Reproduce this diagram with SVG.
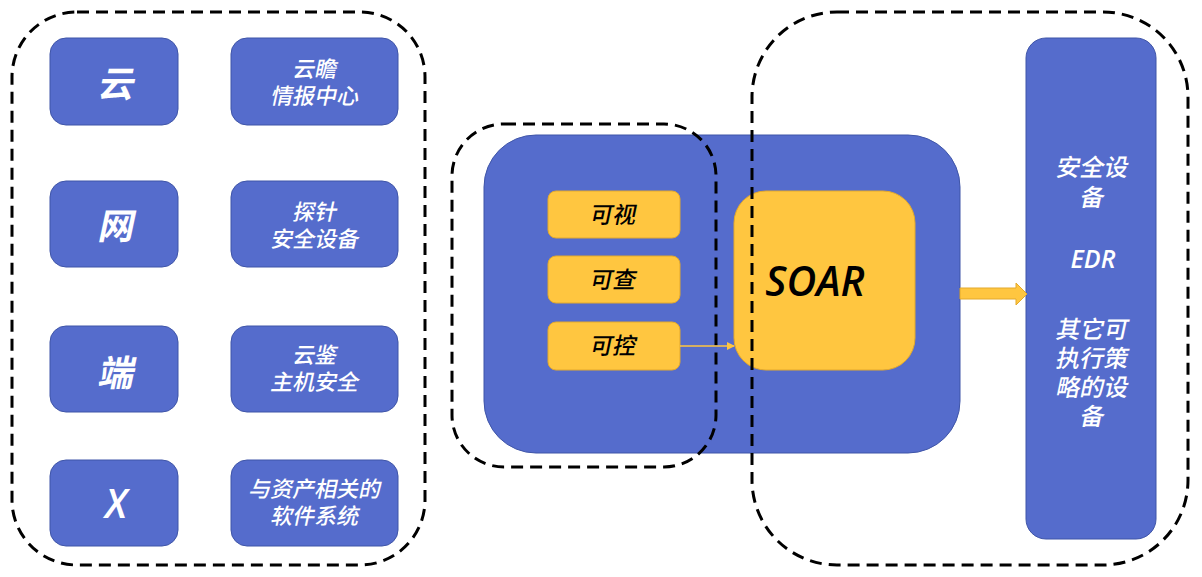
<svg xmlns="http://www.w3.org/2000/svg" width="1202" height="577" viewBox="0 0 1202 577">
<style>
.blue{fill:#556CCC;stroke:#3F55A8;stroke-width:1}
.yel{fill:#FFC640;stroke:#E3A92C;stroke-width:1}
.dash{fill:none;stroke:#000;stroke-width:3;stroke-dasharray:12 7}
text{font-family:"Noto Sans CJK SC","Noto Sans",sans-serif;text-anchor:middle;font-weight:500}
.lat{font-family:"Open Sans","Noto Sans",sans-serif;font-weight:600}
.w{fill:#fff}
.k{fill:#000}
.big{font-size:36px;font-weight:bold}
.mid{font-size:22px}
.r{font-size:24px}
.y{font-size:23px}
</style>
<defs>
<marker id="ah" markerWidth="8" markerHeight="8" refX="7" refY="4" orient="auto" markerUnits="userSpaceOnUse">
<path d="M0,0 L8,4 L0,8 Z" fill="#FFC640"/>
</marker>
</defs>
<rect width="1202" height="577" fill="#fff"/>
<g id="group-left"><rect class="dash" x="12" y="12" width="413" height="553" rx="65"/></g>
<g id="n-yun"><rect class="blue" x="50" y="38" width="128" height="87" rx="16"/><text class="w big" transform="translate(115,97) skewX(-12)">云</text></g>
<g id="n-yunzhan"><rect class="blue" x="231" y="38" width="167" height="87" rx="16"/><text class="w mid" transform="translate(314,77) skewX(-12)">云瞻</text><text class="w mid" transform="translate(314,104) skewX(-12)">情报中心</text></g>
<g id="n-wang"><rect class="blue" x="50" y="181" width="128" height="86" rx="16"/><text class="w big" transform="translate(115,239) skewX(-12)">网</text></g>
<g id="n-tanzhen"><rect class="blue" x="231" y="181" width="167" height="86" rx="16"/><text class="w mid" transform="translate(314,220) skewX(-12)">探针</text><text class="w mid" transform="translate(314,247) skewX(-12)">安全设备</text></g>
<g id="n-duan"><rect class="blue" x="50" y="326" width="128" height="86" rx="16"/><text class="w big" transform="translate(115,386) skewX(-12)">端</text></g>
<g id="n-yunjian"><rect class="blue" x="231" y="326" width="167" height="86" rx="16"/><text class="w mid" transform="translate(314,363) skewX(-12)">云鉴</text><text class="w mid" transform="translate(314,390) skewX(-12)">主机安全</text></g>
<g id="n-x"><rect class="blue" x="50" y="460" width="128" height="86" rx="16"/><text class="w lat" x="116" y="518" style="font-size:39px;font-style:italic">X</text></g>
<g id="n-software"><rect class="blue" x="231" y="460" width="167" height="86" rx="16"/><text class="w mid" transform="translate(314,497) skewX(-12)">与资产相关的</text><text class="w mid" transform="translate(314,524) skewX(-12)">软件系统</text></g>
<g id="n-platform"><rect class="blue" x="484" y="135" width="476" height="318" rx="52"/></g>
<g id="n-keshi"><rect class="yel" x="548" y="191" width="132" height="47" rx="8"/><text class="k y" transform="translate(612,223) skewX(-12)">可视</text></g>
<g id="n-kecha"><rect class="yel" x="548" y="256" width="132" height="47" rx="8"/><text class="k y" transform="translate(612,288) skewX(-12)">可查</text></g>
<g id="n-kekong"><rect class="yel" x="548" y="322" width="132" height="48" rx="8"/><text class="k y" transform="translate(612,354) skewX(-12)">可控</text></g>
<g id="n-soar"><rect class="yel" x="734" y="191" width="181" height="179" rx="32"/><text class="k lat" x="815" y="296" style="font-size:41px;font-style:italic">SOAR</text></g>
<g id="n-devices"><rect class="blue" x="1026" y="38" width="130" height="501" rx="20"/>
<text class="w r" transform="translate(1091,176) skewX(-12)">安全设</text><text class="w r" transform="translate(1091,206) skewX(-12)">备</text>
<text class="w lat" x="1093" y="268" style="font-size:25px;font-style:italic">EDR</text>
<text class="w r" transform="translate(1091,338) skewX(-12)">其它可</text><text class="w r" transform="translate(1091,367) skewX(-12)">执行策</text><text class="w r" transform="translate(1091,396) skewX(-12)">略的设</text><text class="w r" transform="translate(1091,425) skewX(-12)">备</text></g>
<g id="group-mid"><rect class="dash" x="452" y="124" width="264" height="343" rx="52"/></g>
<g id="group-right"><rect class="dash" x="752" y="12" width="436" height="553" rx="85"/></g>
<g id="connectors">
<line x1="680" y1="346" x2="734" y2="346" stroke="#FFC640" stroke-width="1.5" marker-end="url(#ah)"/>
<path d="M960,288 L1016,288 L1016,283 L1027,294 L1016,305 L1016,299 L960,299 Z" fill="#FFC640" stroke="#E3A92C" stroke-width="1"/>
</g>
</svg>
